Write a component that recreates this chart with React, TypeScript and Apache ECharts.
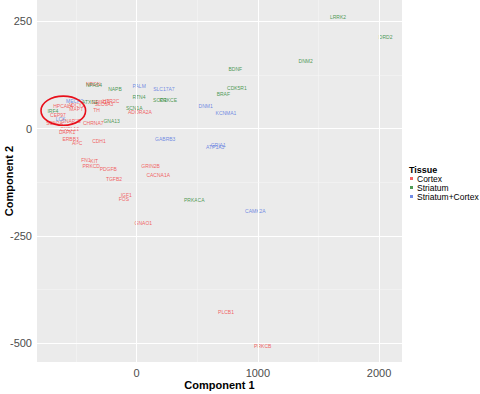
import React, { useEffect, useRef } from "react";
import * as echarts from "echarts";

// ---- Data ----
const cortexNames = ["NRGN", "HPCAL4", "ADCY1", "MAPT", "CEP97", "SNAP25", "SCN2A", "CXCL12", "DAPK1", "ERBB3", "APC", "GRIN2A", "HTR2C", "SLC6A3", "TH", "CHRNA7", "ADORA2A", "CDH1", "FN1", "KIT", "PRKCD", "PDGFB", "TGFB2", "IGF1", "FOS", "GRIN2B", "CACNA1A", "GNAO1", "PLCB1", "PRKCB"];
const cortexX = [-358, -608, -498, -498, -649, -540, -677, -553, -573, -545, -490, -295, -212, -269, -330, -358, 27, -311, -418, -350, -375, -234, -187, -86, -105, 115, 178, 55, 737, 1040];
const cortexY = [103, 54, 56, 45, 33, 19, 13, 0, -8, -24, -33, 63, 64, 57, 44, 14, 40, -28, -73, -76, -87, -95, -118, -155, -165, -87, -108, -219, -428, -506];

const striatumNames = ["LRRK2", "DRD2", "DNM2", "BDNF", "CDK5R1", "BRAF", "NAPB", "RTN4", "SOD1", "PRKCE", "ATXN1", "IRF4", "GNA13", "SCN1A", "PRKACA", "NPAS4"];
const striatumX = [1661, 2054, 1394, 814, 827, 715, -179, 19, 192, 262, -385, -691, -206, -20, 475, -352];
const striatumY = [260, 213, 157, 139, 95, 81, 93, 74, 66, 66, 62, 42, 17, 49, -167, 102];

const bothNames = ["PALM", "SLC17A7", "DNM1", "KCNMA1", "GRIA1", "ATP1A3", "GABRB3", "CAMK2A", "MECP2", "LCK"];
const bothX = [21, 225, 569, 737, 673, 648, 236, 979, -512, -627];
const bothY = [99, 92, 52, 37, -37, -43, -24, -191, 64, 23];

const tissues = ["Cortex", "Striatum", "Striatum+Cortex"];
const xTicks = [0, 1000, 2000];
const xMinor = [-500, 500, 1500];
const yTicks = [-500, -250, 0, 250];
const yMinor = [-375, -125, 125];

// highlighted cluster (annotation ellipse, in data units)
const ellipseCenter = [-605, 42];
const ellipseRadius = [184, 34];

const COLORS = ["#F23A3A", "#22822A", "#4F6FE0"];
const FONT = "Liberation Sans";

function textSeries(name: string, names: string[], xs: number[], ys: number[], color: string) {
  return {
    name,
    type: "scatter",
    data: names.map((n, i) => ({ name: n, value: [xs[i], ys[i]] })),
    symbolSize: 0,
    itemStyle: { color },
    label: {
      show: true,
      position: "inside",
      formatter: "{b}",
      color,
      fontSize: 5,
      fontFamily: FONT,
    },
    labelLayout: { hideOverlap: false },
    emphasis: { disabled: true },
    silent: true,
    z: 3,
  };
}

export default function App() {
  const ref = useRef<HTMLDivElement>(null);
  useEffect(() => {
    if (!ref.current) return;
    document.body.style.margin = "0";
    const chart = echarts.init(ref.current, null, { renderer: "svg" });
    const gridLines = [
      ...xTicks.map((v) => ({ xAxis: v, lineStyle: { color: "#FFFFFF", width: 1, type: "solid" } })),
      ...xMinor.map((v) => ({ xAxis: v, lineStyle: { color: "#F6F6F6", width: 0.5, type: "solid" } })),
      ...yTicks.map((v) => ({ yAxis: v, lineStyle: { color: "#FFFFFF", width: 1, type: "solid" } })),
      ...yMinor.map((v) => ({ yAxis: v, lineStyle: { color: "#F6F6F6", width: 0.5, type: "solid" } })),
    ];
    chart.setOption({
      animation: false,
      backgroundColor: "#FFFFFF",
      title: {
        text: "Tissue",
        left: 409,
        top: 165,
        padding: 0,
        textStyle: { fontSize: 9, fontWeight: "bold", fontFamily: FONT, color: "#000" },
      },
      legend: {
        data: tissues,
        orient: "vertical",
        left: 410,
        top: 174,
        padding: 0,
        itemWidth: 3,
        itemHeight: 3,
        itemGap: 0,
        icon: "rect",
        selectedMode: false,
        textStyle: { fontSize: 8.5, color: "#000", fontFamily: FONT, lineHeight: 8, padding: [0, 0, 0, -1] },
      },
      grid: {
        left: 37,
        right: 78,
        top: 0,
        bottom: 32,
        show: true,
        backgroundColor: "#EBEBEB",
        borderWidth: 0,
        containLabel: false,
        outerBoundsMode: "none",
      },
      xAxis: {
        type: "value",
        min: -822,
        max: 2189,
        splitLine: { show: false },
        axisLine: { show: false },
        axisTick: { show: true, customValues: xTicks, length: 3, lineStyle: { color: "#333" } },
        axisLabel: {
          customValues: xTicks,
          formatter: (v: number) => String(v),
          color: "#4D4D4D",
          fontSize: 11,
          margin: 5,
          fontFamily: FONT,
        },
        name: "Component 1",
        nameLocation: "middle",
        nameGap: 17,
        nameMoveOverlap: false,
        nameTextStyle: { fontWeight: "bold", fontSize: 11, color: "#000", fontFamily: FONT },
      },
      yAxis: {
        type: "value",
        min: -544,
        max: 300,
        splitLine: { show: false },
        axisLine: { show: false },
        axisTick: { show: true, customValues: yTicks, length: 3, lineStyle: { color: "#333" } },
        axisLabel: {
          customValues: yTicks,
          formatter: (v: number) => String(v),
          color: "#4D4D4D",
          fontSize: 11,
          margin: 5,
          fontFamily: FONT,
        },
        name: "Component 2",
        nameLocation: "middle",
        nameGap: 23,
        nameMoveOverlap: false,
        nameRotate: 90,
        nameTextStyle: { fontWeight: "bold", fontSize: 11, color: "#000", fontFamily: FONT },
      },
      series: [
        {
          name: "grid",
          type: "scatter",
          data: [],
          silent: true,
          z: 1,
          markLine: {
            silent: true,
            symbol: ["none", "none"],
            label: { show: false },
            animation: false,
            data: gridLines,
          },
        },
        textSeries(tissues[0], cortexNames, cortexX, cortexY, COLORS[0]),
        textSeries(tissues[1], striatumNames, striatumX, striatumY, COLORS[1]),
        textSeries(tissues[2], bothNames, bothX, bothY, COLORS[2]),
      ],
    });
    const c = chart.convertToPixel({ gridIndex: 0 }, ellipseCenter) as number[];
    const e = chart.convertToPixel({ gridIndex: 0 }, [
      ellipseCenter[0] + ellipseRadius[0],
      ellipseCenter[1] + ellipseRadius[1],
    ]) as number[];
    chart.setOption({
      graphic: [
        {
          type: "ellipse",
          silent: true,
          z: 100,
          shape: { cx: c[0], cy: c[1], rx: Math.abs(e[0] - c[0]), ry: Math.abs(e[1] - c[1]) },
          style: { fill: "none", stroke: "#E8101B", lineWidth: 1.6 },
        },
      ],
    });
    return () => chart.dispose();
  }, []);
  return <div ref={ref} style={{ width: 480, height: 394 }} />;
}
